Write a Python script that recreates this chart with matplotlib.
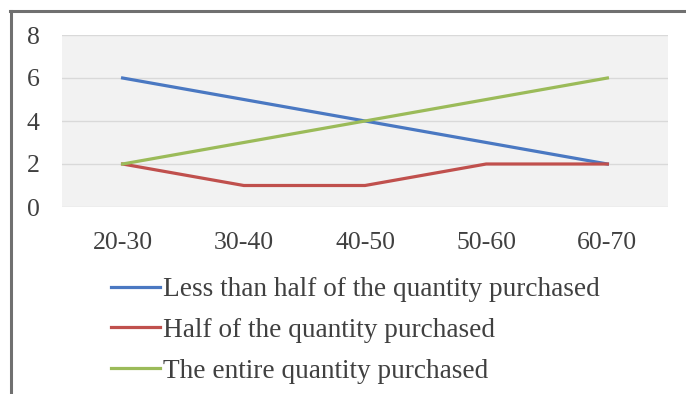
import matplotlib
matplotlib.use("Agg")
import matplotlib.pyplot as plt
from matplotlib.lines import Line2D

# age groups and counts for each buying pattern
age_groups = ["20-30", "30-40", "40-50", "50-60", "60-70"]
less_than_half = [6, 5, 4, 3, 2]
half_quantity = [2, 1, 1, 2, 2]
entire_quantity = [2, 3, 4, 5, 6]
series_names = ["Less than half of the quantity purchased",
                "Half of the quantity purchased",
                "The entire quantity purchased"]
y_ticks = [0, 2, 4, 6, 8]

plt.rcParams["font.family"] = ["Liberation Serif", "DejaVu Serif"]

W, H = 686, 394
fig = plt.figure(figsize=(W / 100, H / 100), dpi=100)
ax = fig.add_axes([62 / W, 1 - 207 / H, (668 - 62) / W, (207 - 35) / H])
ax.set_facecolor("#f2f2f2")

x = range(len(age_groups))
ax.plot(x, less_than_half, color="#4a78c2", lw=2.3, label=series_names[0])
ax.plot(x, half_quantity, color="#c0504d", lw=2.3, label=series_names[1])
ax.plot(x, entire_quantity, color="#9bbb59", lw=2.3, label=series_names[2])

ax.set_xlim(-0.5, 4.5)
ax.set_ylim(0, 8)
ax.set_yticks(y_ticks)
ax.set_xticks(list(x))
ax.set_xticklabels(age_groups)
ax.grid(axis="y", color="#d9d9d9", lw=1)
ax.set_axisbelow(True)
for s in ax.spines.values():
    s.set_visible(False)
ax.tick_params(length=0, labelsize=18.5, colors="#404040")
ax.tick_params(axis="y", pad=16)
ax.tick_params(axis="x", pad=18)

leg = fig.legend(loc="upper left", bbox_to_anchor=(111 / W, 1 - 277 / H),
                 frameon=False, fontsize=19.6, handlelength=1.8, borderpad=0,
                 borderaxespad=0, handletextpad=0.12, labelspacing=0.58)
for t in leg.get_texts():
    t.set_color("#404040")

# outer frame on top and left
fig.add_artist(Line2D([10 / W, 1], [1 - 11 / H, 1 - 11 / H], color="#707070", lw=2.2,
                      transform=fig.transFigure))
fig.add_artist(Line2D([11 / W, 11 / W], [0, 1 - 11 / H], color="#707070", lw=2.2,
                      transform=fig.transFigure))

fig.savefig("out.png", dpi=100)
